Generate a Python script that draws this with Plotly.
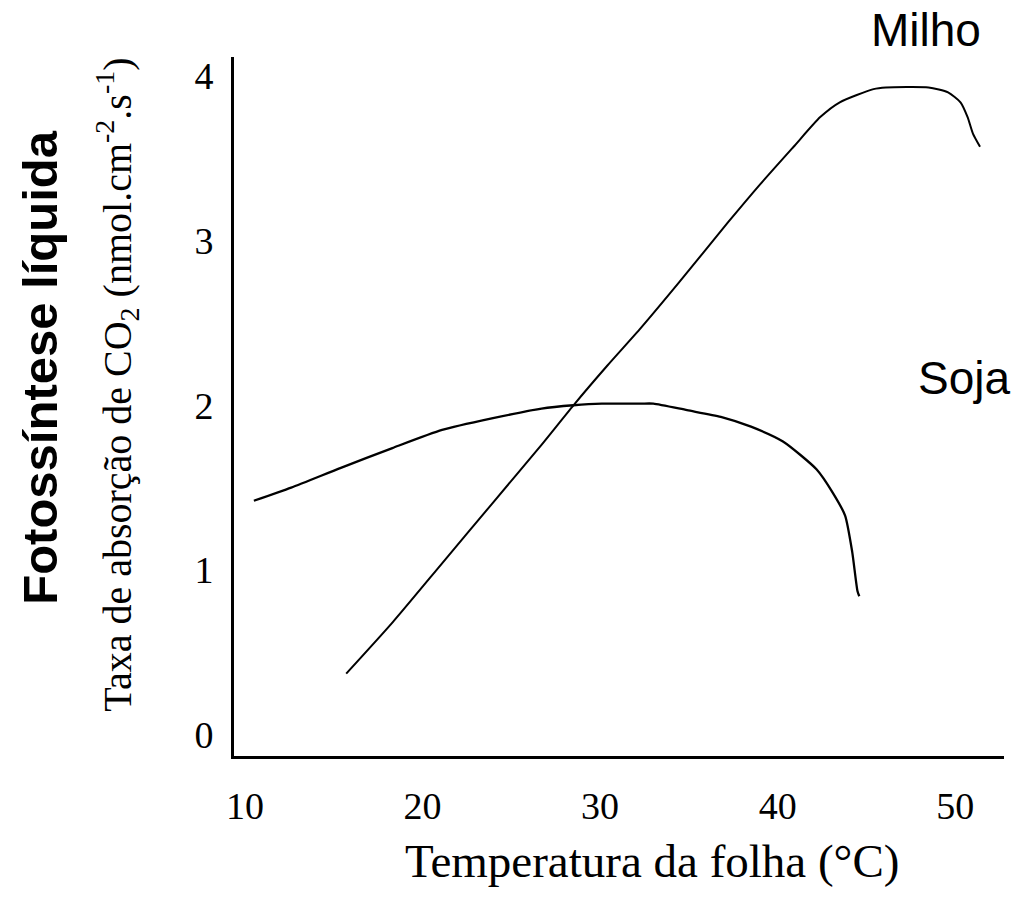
import plotly.graph_objects as go

# Data (temperature in °C, CO2 uptake rate)
soja_temp = [10.5, 12.6, 15.4, 18.3, 21.1, 23.9, 26.7, 28.5, 30.1, 32.3, 33.0, 34.9,
             36.8, 38.5, 40.3, 42.2, 43.1, 43.8, 44.2, 44.5, 44.6]
soja_rate = [1.42, 1.50, 1.62, 1.74, 1.85, 1.92, 1.98, 2.00, 2.01, 2.01, 2.01, 1.97,
             1.93, 1.87, 1.78, 1.61, 1.47, 1.33, 1.11, 0.87, 0.84]

milho_temp = [15.7, 18.3, 21.1, 23.9, 26.7, 28.5, 30.4, 32.3, 34.4, 37.2, 39.0, 40.9,
              42.4, 43.5, 45.4, 46.1, 48.5, 49.6, 50.3, 50.7, 51.0, 51.4]
milho_rate = [0.37, 0.68, 1.04, 1.40, 1.76, 2.00, 2.24, 2.47, 2.74, 3.11, 3.34, 3.57,
              3.75, 3.84, 3.92, 3.93, 3.93, 3.90, 3.84, 3.75, 3.65, 3.57]

x_ticks = [10, 20, 30, 40, 50]
y_ticks = [0, 1, 2, 3, 4]

W, H = 1016, 901
L, R, T, B = 234, 1004, 57, 756.5


def px(x):
    return (x - L) / (R - L)


def py(y):
    return (B - y) / (B - T)


fig = go.Figure()
fig.add_trace(go.Scatter(x=milho_temp, y=milho_rate, mode="lines",
                         line=dict(color="black", width=2, shape="spline", smoothing=0.6),
                         showlegend=False, hoverinfo="skip"))
fig.add_trace(go.Scatter(x=soja_temp, y=soja_rate, mode="lines",
                         line=dict(color="black", width=2.3, shape="spline", smoothing=0.6),
                         showlegend=False, hoverinfo="skip"))

serif = "Liberation Serif"
sans = "Liberation Sans"

fig.update_layout(
    width=W, height=H,
    margin=dict(l=L, r=W - R, t=T, b=H - B, pad=0),
    paper_bgcolor="white", plot_bgcolor="white",
    xaxis=dict(range=[9.38, 52.75], tickvals=x_ticks, ticktext=[str(v) for v in x_ticks],
               showgrid=False, zeroline=False, showline=True, linecolor="black", linewidth=3,
               ticks="", ticklabelstandoff=14,
               tickfont=dict(family=serif, size=38, color="black")),
    yaxis=dict(range=[-0.13, 4.115], tickvals=y_ticks, ticktext=[str(v) for v in y_ticks],
               showgrid=False, zeroline=False, showline=True, linecolor="black", linewidth=3,
               ticks="", ticklabelstandoff=10,
               tickfont=dict(family=serif, size=38, color="black")),
    annotations=[
        dict(text="Milho", x=px(926), y=py(30), xref="paper", yref="paper",
             showarrow=False, font=dict(family=sans, size=46, color="black"),
             xanchor="center", yanchor="middle"),
        dict(text="Soja", x=px(964), y=py(378), xref="paper", yref="paper",
             showarrow=False, font=dict(family=sans, size=46, color="black"),
             xanchor="center", yanchor="middle"),
        dict(text="Temperatura da folha (°C)", x=px(652), y=py(862), xref="paper", yref="paper",
             showarrow=False, font=dict(family=serif, size=47, color="black"),
             xanchor="center", yanchor="middle"),
        dict(text="Taxa de absorção de CO<sub>2</sub> (nmol.cm<sup>-2</sup>.s<sup>-1</sup>)",
             x=px(117), y=py(385), xref="paper", yref="paper", textangle=-90,
             showarrow=False, font=dict(family=serif, size=40, color="black"),
             xanchor="center", yanchor="middle"),
        dict(text="<b>Fotossíntese líquida</b>", x=px(40), y=py(368), xref="paper", yref="paper",
             textangle=-90, showarrow=False, font=dict(family=sans, size=49, color="black"),
             xanchor="center", yanchor="middle"),
    ],
)

fig.write_html("out.html")
